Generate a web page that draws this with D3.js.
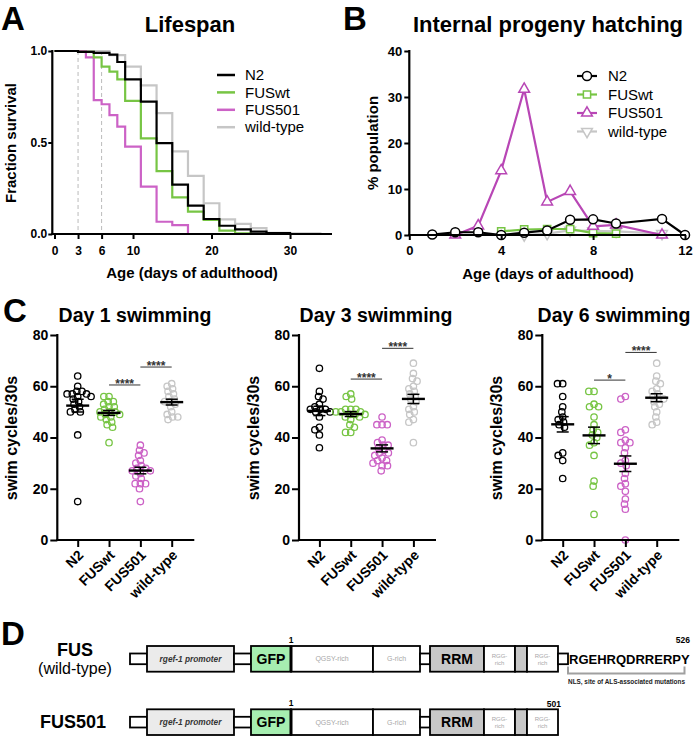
<!DOCTYPE html>
<html>
<head>
<meta charset="utf-8">
<script src="https://cdn.jsdelivr.net/npm/d3@7"></script>
<style>
  body { margin: 0; background: #fff; }
  svg { display: block; }
  text { font-family: 'Liberation Sans', Arial, Helvetica, sans-serif; }
</style>
</head>
<body>
<div id="fig"></div>
<script>
// ---- data ----
var strains = ["N2", "FUSwt", "FUS501", "wild-type"];

// A: lifespan step curves (day, fraction survival)
var n2Days = [0, 3, 5, 7, 8, 9, 11, 13, 15, 17, 19, 21, 23, 25, 27, 30];
var n2Surv = [1, 0.995, 0.99, 0.98, 0.94, 0.845, 0.723, 0.497, 0.27, 0.155, 0.082, 0.045, 0.025, 0.013, 0.005, 0];
var fusWtDays = [0, 3, 5, 6, 7, 8, 9, 11, 13, 15, 17, 19, 21, 23, 25];
var fusWtSurv = [1, 0.995, 0.965, 0.915, 0.887, 0.845, 0.727, 0.523, 0.344, 0.2, 0.122, 0.077, 0.018, 0.003, 0];
var fus501Days = [0, 4, 5, 6, 7, 8, 9, 11, 13, 15, 17];
var fus501Surv = [1, 0.965, 0.732, 0.709, 0.65, 0.587, 0.477, 0.259, 0.067, 0.049, 0];
var wtDays = [0, 7, 9, 11, 13, 15, 17, 19, 21, 23, 25, 27, 30, 34];
var wtSurv = [1, 0.978, 0.915, 0.812, 0.66, 0.452, 0.318, 0.168, 0.08, 0.055, 0.032, 0.006, 0.003, 0.003];
var markDays = [3, 6];
var lifespanXTicks = [0, 3, 6, 10, 20, 30];
var lifespanYTicks = [0, 0.5, 1];

// B: internal hatching (% population), null = not plotted
var hatchDays = [1, 2, 3, 4, 5, 6, 7, 8, 9, 11, 12];
var hatchN2 = [0.1, 0.6, 0.6, 0, 0.5, 1.0, 3.3, 3.4, 2.5, 3.5, 0];
var hatchFusWt = [null, null, null, 0.8, 1.2, 1.3, 1.3, 0.4, 0.3, null, null];
var hatchFus501 = [null, 0, 2, 14, 31.7, 7.2, 9.5, 1.9, 2.2, 0, null];
var hatchWt = [null, null, null, null, 0, 0.3, 1.0, 0.9, 0.8, 0.3, null];
var hatchXTicks = [0, 4, 8, 12];
var hatchYTicks = [0, 10, 20, 30, 40];

// C: swim cycles / 30 s, groups in order of strains
var day1Swim = [
  [64, 60, 58, 58, 57, 57, 57, 56, 56, 55, 54, 53, 52, 51, 50, 50, 41, 15],
  [56, 56, 54, 54, 53, 52, 52, 51, 50, 50, 50, 49, 49, 48, 48, 47, 46, 45, 44, 38],
  [37, 35, 34, 33, 31, 30, 29, 28, 28, 27, 27, 26, 25, 24, 22, 22, 22, 20, 15],
  [61, 60, 59, 58, 57, 56, 55, 54, 54, 53, 52, 50, 49, 48, 48, 47]
];
var day3Swim = [
  [67, 58, 56, 55, 53, 52, 51, 51, 51, 50, 50, 48, 44, 43, 41, 36],
  [57, 56, 55, 51, 51, 51, 50, 50, 50, 49, 49, 49, 48, 48, 47, 45, 44, 42, 42],
  [48, 45, 45, 45, 39, 38, 37, 37, 36, 35, 34, 34, 33, 32, 31, 31, 30, 29, 29, 27],
  [69, 65, 63, 62, 60, 59, 58, 57, 56, 55, 54, 52, 51, 50, 49, 47, 46, 38]
];
var day6Swim = [
  [61, 61, 56, 52, 50, 48, 47, 46, 45, 44, 34, 33, 31, 24],
  [58, 58, 53, 52, 52, 48, 45, 43, 42, 41, 40, 38, 37, 33, 23, 21, 10],
  [56, 55, 43, 42, 39, 38, 38, 36, 34, 31, 30, 29, 26, 24, 22, 21, 19, 16, 14, 12, 0],
  [69, 64, 62, 61, 59, 58, 57, 56, 55, 55, 54, 53, 52, 50, 48, 46, 45]
];
var swimTitles = ["Day 1 swimming", "Day 3 swimming", "Day 6 swimming"];
var swimYTicks = [0, 20, 40, 60, 80];
// significance: [group a, group b, height (swim cycles), label]
var day1Sig = [[1, 2, 60.5, "****"], [2, 3, 67.5, "****"]];
var day3Sig = [[1, 2, 62.8, "****"], [2, 3, 74.8, "****"]];
var day6Sig = [[1, 2, 62.4, "*"], [2, 3, 73.2, "****"]];

// D: construct domains (relative lengths)
var domainNames = ["", "rgef-1 promoter", "", "GFP", "QGSY-rich", "G-rich", "", "RRM", "RGG-|rich", "", "RGG-|rich", ""];
var domainKinds = ["link", "promoter", "link", "gfp", "plain", "plain", "link", "rrm", "plain", "grey", "plain", "link"];
var domainLengths = [17, 87, 17, 40, 82, 47, 10, 54, 31, 12, 31, 10];
var nlsSequence = "RGEHRQDRRERPY";

// ---- drawing ----
var W = 693, H = 741;
var colors = ["#000000", "#77c544", "#cc62c6", "#c6c6c6"];
var hatchColors = ["#000000", "#77c544", "#b846b5", "#c6c6c6"];

var svg = d3.select("#fig").append("svg").attr("width", W).attr("height", H);

function styleAxis(g, size) {
  g.selectAll(".domain").remove();
  g.selectAll("line").attr("stroke", "#000").attr("stroke-width", 2);
  g.selectAll("text").attr("font-size", size).attr("font-weight", "bold").attr("fill", "#000")
    .attr("font-family", "'Liberation Sans', Arial, sans-serif");
}
function panelLetter(t, x, y) {
  svg.append("text").attr("x", x).attr("y", y).text(t)
    .attr("font-size", 33).attr("font-weight", "bold");
}
function title(t, x, y, size) {
  svg.append("text").attr("x", x).attr("y", y).attr("text-anchor", "middle")
    .attr("font-size", size).attr("font-weight", "bold").text(t);
}
function yLabel(t, x, y, size) {
  svg.append("text").attr("transform", "translate(" + x + "," + y + ") rotate(-90)")
    .attr("text-anchor", "middle").attr("font-size", size).attr("font-weight", "bold").text(t);
}
function hline(x1, x2, y) {
  svg.append("line").attr("x1", x1).attr("x2", x2).attr("y1", y).attr("y2", y)
    .attr("stroke", "#000").attr("stroke-width", 2.2);
}
function vline(x, y1, y2) {
  svg.append("line").attr("x1", x).attr("x2", x).attr("y1", y1).attr("y2", y2)
    .attr("stroke", "#000").attr("stroke-width", 2.2);
}

// ===== A: Lifespan =====
var xA = d3.scaleLinear().domain([0, 35]).range([54.5, 329.3]);
var yA = d3.scaleLinear().domain([0, 1]).range([234, 51]);

panelLetter("A", 1, 30);
title("Lifespan", 190, 32, 22);
yLabel("Fraction survival", 16, 143, 15);

svg.selectAll(".mark").data(markDays).enter().append("line")
  .attr("x1", function(d) { return xA(d); }).attr("x2", function(d) { return xA(d); })
  .attr("y1", yA(1)).attr("y2", yA(0))
  .attr("stroke", "#bbb").attr("stroke-width", 1).attr("stroke-dasharray", "4,3");

var stepLine = d3.line().x(function(d) { return xA(d[0]); }).y(function(d) { return yA(d[1]); })
  .curve(d3.curveStepAfter);
var lifeSeries = [
  d3.zip(n2Days, n2Surv), d3.zip(fusWtDays, fusWtSurv),
  d3.zip(fus501Days, fus501Surv), d3.zip(wtDays, wtSurv)
];
[3, 2, 1, 0].forEach(function(i) {
  svg.append("path").attr("d", stepLine(lifeSeries[i])).attr("fill", "none")
    .attr("stroke", colors[i]).attr("stroke-width", 2.2);
});

var axA = svg.append("g").attr("transform", "translate(0,234)")
  .call(d3.axisBottom(xA).tickValues(lifespanXTicks).tickSize(5).tickPadding(7));
styleAxis(axA, 12);
var ayA = svg.append("g").attr("transform", "translate(52.3,0)")
  .call(d3.axisLeft(yA).tickValues(lifespanYTicks).tickFormat(d3.format(".1f")).tickSize(4).tickPadding(1));
styleAxis(ayA, 12);
hline(51.2, 332, 234);
vline(52.3, 50, 235);
svg.append("text").attr("x", 192).attr("y", 278).attr("text-anchor", "middle")
  .attr("font-size", 15).attr("font-weight", "bold").text("Age (days of adulthood)");

var legA = svg.append("g");
strains.forEach(function(s, i) {
  var y = 75 + i * 17.4;
  legA.append("line").attr("x1", 217).attr("x2", 235).attr("y1", y).attr("y2", y)
    .attr("stroke", colors[i]).attr("stroke-width", 2.5);
  legA.append("text").attr("x", 245).attr("y", y + 5.2).attr("font-size", 15).text(s);
});

// ===== B: Internal progeny hatching =====
var xB = d3.scaleLinear().domain([0, 12]).range([409.3, 685]);
var yB = d3.scaleLinear().domain([0, 40]).range([235, 51]);

panelLetter("B", 343, 30);
title("Internal progeny hatching", 548, 32, 22);
yLabel("% population", 378, 143, 15);

var symbols = [
  d3.symbol().type(d3.symbolCircle).size(64),
  d3.symbol().type(d3.symbolSquare).size(52),
  d3.symbol().type(d3.symbolTriangle).size(50),
  d3.symbol().type(d3.symbolTriangle).size(50)
];
var hatchSeries = [hatchN2, hatchFusWt, hatchFus501, hatchWt];
var hatchLine = d3.line().defined(function(d) { return d[1] != null; })
  .x(function(d) { return xB(d[0]); }).y(function(d) { return yB(d[1]); });
[3, 1, 2, 0].forEach(function(i) {
  var pts = d3.zip(hatchDays, hatchSeries[i]).filter(function(d) { return d[1] != null; });
  var g = svg.append("g");
  g.append("path").attr("d", hatchLine(pts)).attr("fill", "none")
    .attr("stroke", hatchColors[i]).attr("stroke-width", 2.2);
  g.selectAll("path.pt").data(pts).enter().append("path").attr("class", "pt")
    .attr("d", symbols[i])
    .attr("transform", function(d) {
      return "translate(" + xB(d[0]) + "," + yB(d[1]) + ")" + (i === 3 ? " rotate(180)" : "");
    })
    .attr("fill", "#fff").attr("stroke", hatchColors[i]).attr("stroke-width", 1.5);
});

var axB = svg.append("g").attr("transform", "translate(0,235)")
  .call(d3.axisBottom(xB).tickValues(hatchXTicks).tickSize(5).tickPadding(6));
styleAxis(axB, 13);
var ayB = svg.append("g").attr("transform", "translate(409.3,0)")
  .call(d3.axisLeft(yB).tickValues(hatchYTicks).tickSize(5).tickPadding(2));
styleAxis(ayB, 13);
hline(408.2, 686, 235);
vline(409.3, 50, 236);
svg.append("text").attr("x", 548).attr("y", 279).attr("text-anchor", "middle")
  .attr("font-size", 15).attr("font-weight", "bold").text("Age (days of adulthood)");

var legB = svg.append("g");
strains.forEach(function(s, i) {
  var y = 76 + i * 18.5;
  legB.append("line").attr("x1", 577).attr("x2", 597).attr("y1", y).attr("y2", y)
    .attr("stroke", hatchColors[i]).attr("stroke-width", 2.2);
  legB.append("path").attr("d", symbols[i])
    .attr("transform", "translate(587," + y + ")" + (i === 3 ? " rotate(180)" : ""))
    .attr("fill", "#fff").attr("stroke", hatchColors[i]).attr("stroke-width", 1.5);
  legB.append("text").attr("x", 608).attr("y", y + 5.2).attr("font-size", 15).text(s);
});

// ===== C: swimming =====
panelLetter("C", 3, 322);
var ySw = d3.scaleLinear().domain([0, 80]).range([540, 335]);
var swimData = [day1Swim, day3Swim, day6Swim];
var swimSig = [day1Sig, day3Sig, day6Sig];
var swimOrigins = [57.3, 299, 542.3];
var swimTitleX = [135, 376, 614];
var R = 3.2;

function swarm(values, yScale, diam) {
  var pts = values.map(function(v) { return { v: v, y: yScale(v), dx: 0 }; });
  var placed = [];
  pts.forEach(function(p) {
    var ints = [];
    placed.forEach(function(q) {
      var dy = Math.abs(q.y - p.y);
      if (dy < diam) {
        var h = Math.sqrt(diam * diam - dy * dy);
        ints.push([q.dx - h, q.dx + h]);
      }
    });
    var cands = [0];
    ints.forEach(function(iv) { cands.push(iv[0], iv[1]); });
    cands.sort(function(a, b) { return Math.abs(a) - Math.abs(b) || a - b; });
    for (var k = 0; k < cands.length; k++) {
      var c = cands[k];
      var ok = ints.every(function(iv) { return c <= iv[0] + 1e-6 || c >= iv[1] - 1e-6; });
      if (ok) { p.dx = c; break; }
    }
    placed.push(p);
  });
  return pts;
}

swimData.forEach(function(groups, pi) {
  var ox = swimOrigins[pi];
  var xC = d3.scalePoint().domain(strains).range([ox + 20.4, ox + 114.4]);
  var axisEnd = ox + 137;

  title(swimTitles[pi], swimTitleX[pi], 322, 19.5);
  yLabel("swim cycles/30s", ox - 40, 438, 16);

  groups.forEach(function(vals, gi) {
    var cx = xC(strains[gi]);
    var pts = swarm(vals, ySw, 5.2);
    svg.append("g").selectAll("circle").data(pts).enter().append("circle")
      .attr("cx", function(d) { return cx + d.dx; }).attr("cy", function(d) { return d.y; })
      .attr("r", R).attr("fill", "none").attr("stroke", colors[gi]).attr("stroke-width", 1.3);

    var m = d3.mean(vals), sem = d3.deviation(vals) / Math.sqrt(vals.length);
    var eg = svg.append("g").attr("stroke", "#000");
    eg.append("line").attr("x1", cx).attr("x2", cx).attr("y1", ySw(m + sem)).attr("y2", ySw(m - sem))
      .attr("stroke-width", 1.5);
    [m + sem, m - sem].forEach(function(v) {
      eg.append("line").attr("x1", cx - 6).attr("x2", cx + 6).attr("y1", ySw(v)).attr("y2", ySw(v))
        .attr("stroke-width", 1.5);
    });
    eg.append("line").attr("x1", cx - 11.5).attr("x2", cx + 11.5).attr("y1", ySw(m)).attr("y2", ySw(m))
      .attr("stroke-width", 2.4);
  });

  swimSig[pi].forEach(function(s) {
    var x1 = xC(strains[s[0]]), x2 = xC(strains[s[1]]), y = ySw(s[2]);
    svg.append("line").attr("x1", x1).attr("x2", x2).attr("y1", y).attr("y2", y)
      .attr("stroke", "#333").attr("stroke-width", 1);
    svg.append("text").attr("x", (x1 + x2) / 2).attr("y", y + 3).attr("text-anchor", "middle")
      .attr("font-size", 12).attr("font-weight", "bold").attr("fill", "#333").text(s[3]);
  });

  var ax = svg.append("g").attr("transform", "translate(0,540)")
    .call(d3.axisBottom(xC).tickSize(7).tickPadding(0));
  styleAxis(ax, 14);
  ax.selectAll("text").attr("text-anchor", "end").attr("x", 0).attr("y", 0).attr("dy", 0)
    .attr("transform", "translate(6,16) rotate(-45)");
  var ay = svg.append("g").attr("transform", "translate(" + ox + ",0)")
    .call(d3.axisLeft(ySw).tickValues(swimYTicks).tickSize(7).tickPadding(2));
  styleAxis(ay, 14);
  hline(ox - 1.1, axisEnd, 540);
  vline(ox, 334, 541);
});

// ===== D: constructs =====
panelLetter("D", 1, 645);
var total = d3.sum(domainLengths);
var xD = d3.scaleLinear().domain([0, total]).range([130, 130 + total]);
var starts = [0];
domainLengths.forEach(function(l, i) { starts.push(starts[i] + l); });
var fills = { link: "#fff", promoter: "#ebebeb", gfp: "#a6eeb0", plain: "#fff", rrm: "#c8c8c8", grey: "#c8c8c8" };

function construct(top, count) {
  var g = svg.append("g");
  var fullH = 25.7, linkH = 10.7, mid = top + fullH / 2;
  for (var i = 0; i < count; i++) {
    var k = domainKinds[i];
    var x0 = xD(starts[i]), x1 = xD(starts[i + 1]);
    var h = k === "link" ? linkH : fullH;
    g.append("rect").attr("x", x0).attr("y", mid - h / 2).attr("width", x1 - x0).attr("height", h)
      .attr("fill", fills[k]).attr("stroke", "#000").attr("stroke-width", 1.8);
    var name = domainNames[i];
    if (!name) continue;
    var cx = (x0 + x1) / 2;
    if (k === "promoter") {
      g.append("text").attr("x", cx).attr("y", mid + 3).attr("text-anchor", "middle")
        .attr("font-size", 8.3).attr("font-style", "italic").attr("font-weight", "bold")
        .attr("fill", "#333").text(name);
    } else if (k === "gfp" || k === "rrm") {
      g.append("text").attr("x", cx).attr("y", mid + 5).attr("text-anchor", "middle")
        .attr("font-size", 14).attr("font-weight", "bold").text(name);
    } else {
      var lines = name.split("|");
      lines.forEach(function(t, li) {
        g.append("text").attr("x", cx).attr("y", mid + 2.5 + (li - (lines.length - 1) / 2) * 7.5)
          .attr("text-anchor", "middle").attr("font-size", lines.length > 1 ? 6 : 7)
          .attr("fill", "#a8a8a8").text(t);
      });
    }
  }
  // GFP / FUS junction
  var jx = xD(starts[4]);
  g.append("line").attr("x1", jx).attr("x2", jx).attr("y1", top).attr("y2", top + fullH)
    .attr("stroke", "#000").attr("stroke-width", 3);
  g.append("text").attr("x", jx).attr("y", top - 3).attr("text-anchor", "middle")
    .attr("font-size", 8.5).attr("font-weight", "bold").text("1");
  return g;
}

construct(646, 12);
construct(709.3, 11);

svg.append("text").attr("x", 75).attr("y", 656).attr("text-anchor", "middle")
  .attr("font-size", 18).attr("font-weight", "bold").text("FUS");
svg.append("text").attr("x", 75).attr("y", 673.5).attr("text-anchor", "middle")
  .attr("font-size", 16).text("(wild-type)");
svg.append("text").attr("x", 73).attr("y", 727.5).attr("text-anchor", "middle")
  .attr("font-size", 18).attr("font-weight", "bold").text("FUS501");

var endFull = xD(starts[12]);
var end501 = xD(starts[11]);
svg.append("text").attr("x", endFull + 1).attr("y", 664).attr("font-size", 13)
  .attr("font-weight", "bold").text(nlsSequence);
svg.append("text").attr("x", 690).attr("y", 643).attr("text-anchor", "end")
  .attr("font-size", 8.5).attr("font-weight", "bold").text("526");
svg.append("text").attr("x", end501 + 3).attr("y", 707).attr("text-anchor", "end")
  .attr("font-size", 8.5).attr("font-weight", "bold").text("501");
svg.append("path").attr("d", "M568,666.5 V673.5 H684.5 V666.5")
  .attr("fill", "none").attr("stroke", "#a0a0a0").attr("stroke-width", 2);
svg.append("text").attr("x", 626.5).attr("y", 683.5).attr("text-anchor", "middle")
  .attr("font-size", 6.4).attr("font-weight", "bold").attr("fill", "#222")
  .text("NLS, site of ALS-associated mutations");
</script>
</body>
</html>
